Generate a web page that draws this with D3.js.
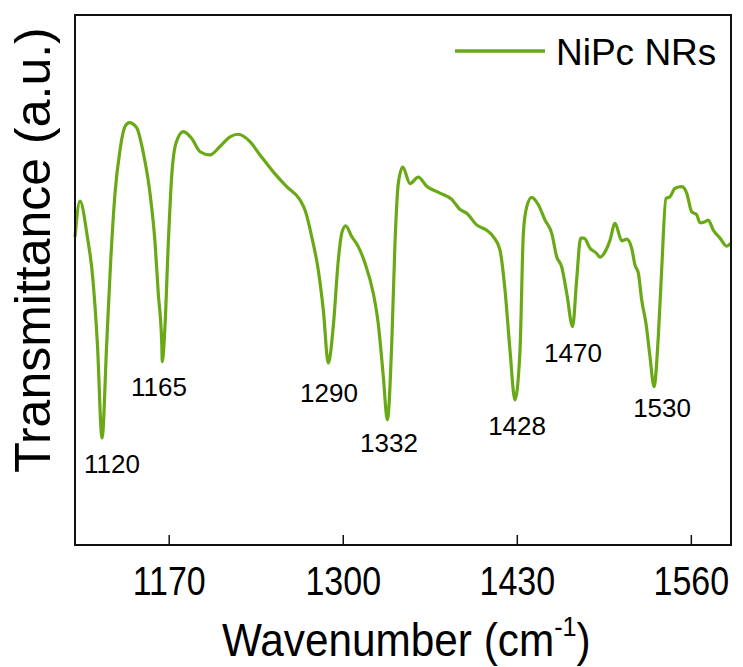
<!DOCTYPE html>
<html>
<head>
<meta charset="utf-8">
<script src="https://cdn.jsdelivr.net/npm/d3@7"></script>
<style>
  html, body { margin: 0; padding: 0; background: #fff; }
  svg { display: block; }
  text { font-family: "Liberation Sans", Arial, sans-serif; fill: #000; }
</style>
</head>
<body>
<svg id="chart" width="743" height="667"></svg>
<script>
// ---- data ----
const wavenumber = [1100,1103.7,1109.2,1113.2,1116.7,1120.2,1123.7,1126.7,1129.9,1133.6,1137.3,1140.6,1146.1,1151.0,1156.0,1159.8,1162.2,1164.8,1165.2,1167.2,1169.7,1172.2,1175.4,1180.9,1187.2,1193.4,1200.8,1208.3,1215.8,1222.0,1230.7,1238.2,1248.1,1258.1,1268.1,1271.8,1276.8,1281.7,1285.5,1289.2,1292.9,1296.7,1299.2,1302.2,1306.7,1311.6,1316.6,1322.8,1326.5,1330.3,1333.3,1336.6,1339.0,1341.5,1344.8,1350.2,1356.4,1362.7,1372.6,1381.4,1387.6,1392.6,1400.0,1407.5,1412.4,1417.4,1421.2,1424.9,1428.6,1432.4,1434.9,1437.4,1441.1,1446.1,1451.1,1456.1,1459.8,1463.5,1467.3,1471.7,1474.7,1477.7,1480.2,1484.7,1489.7,1492.1,1495.9,1499.6,1503.4,1508.4,1512.1,1515.8,1518.3,1520.8,1523.3,1526.5,1529.5,1532.5,1535.7,1538.2,1541.4,1544.4,1548.2,1553.2,1556.9,1560.6,1564.4,1566.8,1570.6,1573.0,1576.8,1581.8,1586.8,1589.8];
const transmittance = [58.1,64.9,58.2,50.6,38.1,20.2,38.1,53.8,66.4,74.5,78.9,79.7,78.7,74.0,66.4,57.0,47.5,38.1,34.6,41.2,57.0,69.5,75.8,78.0,76.7,74.2,73.6,75.2,77.0,77.5,76.1,73.6,70.4,67.6,65.1,63.2,58.2,51.9,44.3,34.3,41.2,53.8,58.8,60.2,58.2,56.3,53.2,47.5,41.8,31.8,23.6,38.1,56.9,68.2,71.3,68.2,69.4,67.7,66.4,65.2,63.3,62.6,60.4,59.4,58.2,55.7,48.1,36.8,27.4,36.8,58.8,63.8,65.6,64.2,61.3,58.8,54.4,52.5,47.5,41.2,50.0,57.9,57.9,56.0,55.0,54.3,55.3,57.5,60.7,57.4,57.7,56.0,52.8,51.3,46.2,41.8,35.5,29.9,39.3,51.9,65.4,65.7,67.3,67.6,66.4,62.9,62.3,60.8,61.0,61.3,59.4,57.9,56.4,56.9];
const peakLabels = ["1120","1165","1290","1332","1428","1470","1530"];
const peakLabelX = [1127.6,1162.7,1289.7,1334.5,1430.2,1472.0,1538.5];
const peakLabelY = [13.6,28.1,27.0,17.6,20.8,34.6,24.2];
const xTicks = [1170,1300,1430,1560];
const seriesName = "NiPc NRs";

// ---- layout ----
const svg = d3.select("#chart");
const mLeft = 75, mRight = 731, mTop = 15, mBottom = 545;
const color = "#6aa916";

const x = d3.scaleLinear().domain([1100,1590]).range([mLeft,mRight]);
const y = d3.scaleLinear().domain([0,100]).range([mBottom,mTop]);

const data = wavenumber.map((w,i)=>({w, t: transmittance[i]}));

const line = d3.line().x(d=>x(d.w)).y(d=>y(d.t)).curve(d3.curveMonotoneX);

svg.append("path").datum(data)
  .attr("d", line)
  .attr("fill","none")
  .attr("stroke", color)
  .attr("stroke-width", 3.2)
  .attr("stroke-linejoin","round");

// frame
svg.append("rect")
  .attr("x", mLeft).attr("y", mTop)
  .attr("width", mRight-mLeft).attr("height", mBottom-mTop)
  .attr("fill","none").attr("stroke","#111").attr("stroke-width",2);

// x axis ticks (inward)
const xAxis = d3.axisBottom(x).tickValues(xTicks).tickFormat(d3.format("d"))
  .tickSizeInner(-10).tickSizeOuter(0).tickPadding(0);
const gx = svg.append("g").attr("transform",`translate(0,${mBottom})`).call(xAxis);
gx.select(".domain").remove();
gx.selectAll(".tick line").attr("stroke","#111").attr("stroke-width",1.5);
gx.selectAll(".tick text")
  .attr("y", 0).attr("dy", 0)
  .attr("transform","translate(0,50) scale(0.85,1)")
  .style("font-size","40px")
  .attr("fill","#000");

// axis titles
const xt = svg.append("text")
  .attr("transform","translate(222,656) scale(0.9,1)")
  .attr("x", 0).attr("y", 0)
  .attr("text-anchor","start")
  .style("font-size","47px");
xt.append("tspan").text("Wavenumber (cm");
xt.append("tspan").attr("dy",-20).style("font-size","28px").text("-1");
xt.append("tspan").attr("dy",20).text(")");

svg.append("text")
  .attr("transform", `translate(50,${250}) rotate(-90)`)
  .attr("text-anchor","middle")
  .style("font-size","50px")
  .text("Transmittance (a.u.)");

// peak labels
svg.selectAll(".peak").data(peakLabels).enter().append("text")
  .attr("class","peak")
  .attr("x",(d,i)=>x(peakLabelX[i]))
  .attr("y",(d,i)=>y(peakLabelY[i]))
  .attr("text-anchor","middle")
  .style("font-size","26px")
  .text(d=>d);

// legend
svg.append("line")
  .attr("x1",455).attr("x2",545).attr("y1",51).attr("y2",51)
  .attr("stroke",color).attr("stroke-width",3.5);
svg.append("text")
  .attr("x",556).attr("y",65)
  .style("font-size","37px")
  .text(seriesName);
</script>
</body>
</html>
